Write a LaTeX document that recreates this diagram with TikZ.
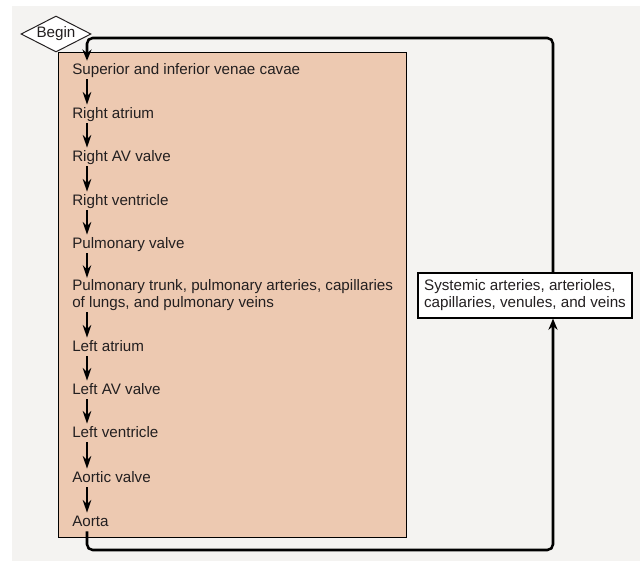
\documentclass[tikz,border=0pt]{standalone}
\usepackage{fontspec}
\setmainfont{Liberation Sans}
\usetikzlibrary{shapes.geometric,arrows.meta}

\definecolor{pagegray}{HTML}{F4F3F1}
\definecolor{heartpink}{HTML}{EDC9B1}
\definecolor{inkgray}{HTML}{231F20}

\begin{document}
\begin{tikzpicture}[x=0.025cm,y=-0.025cm,
		font=\fontsize{10.8}{12}\selectfont,
		stage/.style={anchor=west,inner xsep=0pt,inner ysep=1pt,text=inkgray,align=left},
		oneline/.style={stage,text height=8.5pt,text depth=2.3pt},
		loopline/.style={draw=black,line width=1.8pt,rounded corners=4pt,-{Stealth[length=8pt,width=6.5pt]}}]
	\useasboundingbox (0,0) rectangle (640,561);
	\fill[white] (0,0) rectangle (640,561);
	\fill[pagegray] (12,6) rectangle (640,561);

	\node[draw=black,line width=0.7pt,fill=heartpink,anchor=north west,minimum width=8.7cm,minimum height=12.125cm,inner sep=0pt] (heart) at (58,52) {};
	\node[diamond,draw=inkgray,line width=0.7pt,fill=white,aspect=2,inner sep=0pt,minimum width=1.75cm,minimum height=0.9cm,text=inkgray] (begin) at (56,34) {Begin};

	\begin{scope}[every node/.style={oneline}]
		\node (cavae) at (72,70) {Superior and inferior venae cavae};
		\node (ratrium) at (72,114) {Right atrium};
		\node (ravvalve) at (72,157) {Right AV valve};
		\node (rventricle) at (72,201) {Right ventricle};
		\node (pvalve) at (72,244) {Pulmonary valve};
		\node[stage,text height=,text depth=] (lungs) at (72,295) {Pulmonary trunk, pulmonary arteries, capillaries\\of lungs, and pulmonary veins};
		\node (latrium) at (72,347) {Left atrium};
		\node (lavvalve) at (72,390) {Left AV valve};
		\node (lventricle) at (72,433) {Left ventricle};
		\node (avalve) at (72,478) {Aortic valve};
		\node (aorta) at (72,522) {Aorta};
	\end{scope}

	\node[draw=black,line width=0.8pt,fill=white,text=inkgray,align=left,inner xsep=0.15cm,minimum width=5.35cm,minimum height=1.125cm] (systemic) at (525,295.5) {Systemic arteries, arterioles,\\capillaries, venules, and veins};

	\coordinate (topleft) at (87,38);
	\coordinate (botright) at (553,550);

	\begin{scope}[every edge/.style={draw=black,line width=1.3pt,-{Stealth[length=9pt,width=6pt]}}]
		\path ([xshift=0.375cm]cavae.south west) edge ([xshift=0.375cm]ratrium.north west);
		\path ([xshift=0.375cm]ratrium.south west) edge ([xshift=0.375cm]ravvalve.north west);
		\path ([xshift=0.375cm]ravvalve.south west) edge ([xshift=0.375cm]rventricle.north west);
		\path ([xshift=0.375cm]rventricle.south west) edge ([xshift=0.375cm]pvalve.north west);
		\path ([xshift=0.375cm]pvalve.south west) edge ([xshift=0.375cm]lungs.north west);
		\path ([xshift=0.375cm]lungs.south west) edge ([xshift=0.375cm]latrium.north west);
		\path ([xshift=0.375cm]latrium.south west) edge ([xshift=0.375cm]lavvalve.north west);
		\path ([xshift=0.375cm]lavvalve.south west) edge ([xshift=0.375cm]lventricle.north west);
		\path ([xshift=0.375cm]lventricle.south west) edge ([xshift=0.375cm]avalve.north west);
		\path ([xshift=0.375cm]avalve.south west) edge ([xshift=0.375cm]aorta.north west);
	\end{scope}

	% return loop through the body
	\draw[loopline] ([xshift=0.375cm]aorta.south west) |- (botright) -- (botright |- systemic.south);
	\draw[loopline] (botright |- systemic.north) |- (topleft) -- ([xshift=0.375cm]cavae.north west);
\end{tikzpicture}
\end{document}
